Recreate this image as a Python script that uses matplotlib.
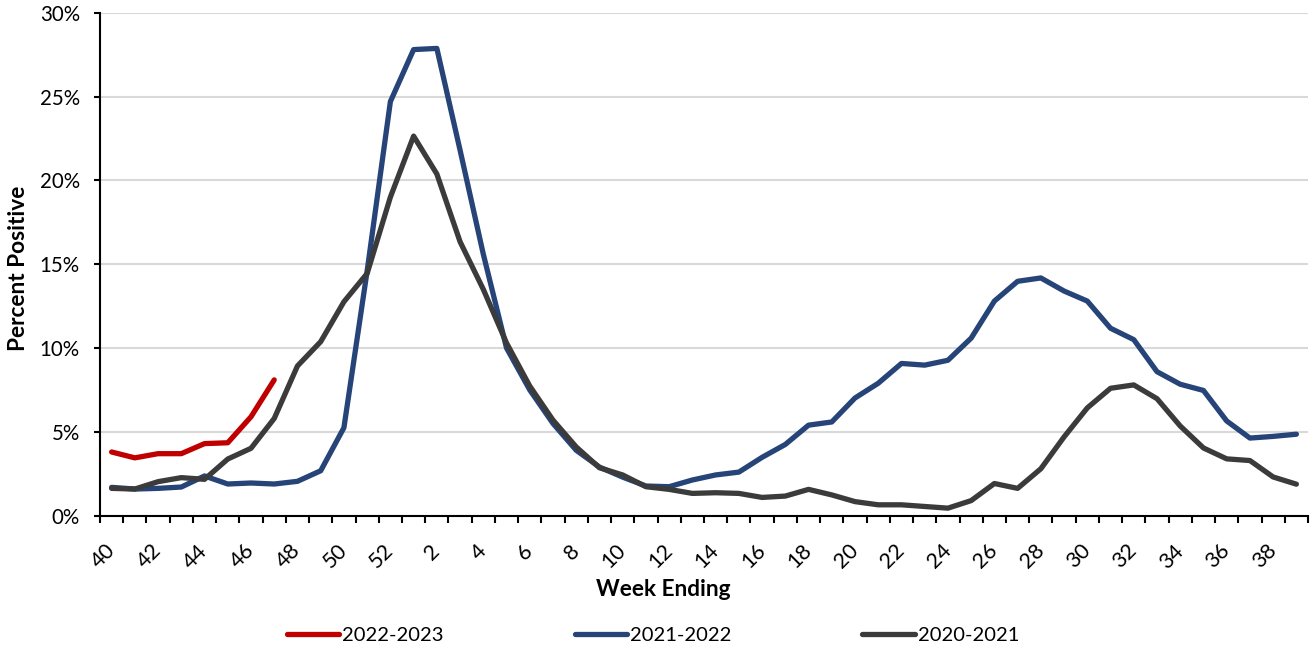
import matplotlib.pyplot as plt
import numpy as np

plt.rcParams['font.family'] = ['Lato', 'DejaVu Sans']

# week numbers on the category axis (flu season: week 40 to week 39)
weeks = list(range(40, 53)) + list(range(1, 40))

# percent positive per week
s2022_2023 = [3.8, 3.45, 3.7, 3.7, 4.3, 4.35, 5.9, 8.1]
s2021_2022 = [1.69, 1.59, 1.63, 1.71, 2.37, 1.89, 1.95, 1.89, 2.05, 2.68, 5.25, 14.6, 24.7, 27.8, 27.87,
              21.8, 15.6, 10.0, 7.5, 5.5, 3.9, 2.9, 2.3, 1.77, 1.73, 2.13, 2.43, 2.6, 3.48, 4.25, 5.4,
              5.59, 7.02, 7.9, 9.08, 8.98, 9.27, 10.59, 12.8, 13.98, 14.18, 13.4, 12.8, 11.18, 10.5,
              8.59, 7.84, 7.47, 5.65, 4.63, 4.73, 4.86]
s2020_2021 = [1.63, 1.59, 2.03, 2.27, 2.17, 3.38, 4.02, 5.8, 8.93, 10.38, 12.76, 14.45, 19.0, 22.64, 20.38,
              16.34, 13.5, 10.3, 7.73, 5.7, 4.1, 2.86, 2.43, 1.73, 1.57, 1.33, 1.37, 1.33, 1.09, 1.17, 1.57,
              1.24, 0.84, 0.65, 0.65, 0.55, 0.45, 0.9, 1.92, 1.63, 2.8, 4.7, 6.43, 7.6, 7.8,
              6.98, 5.35, 4.04, 3.39, 3.29, 2.31, 1.88]

W, H = 1313, 649
fig = plt.figure(figsize=(W / 100, H / 100), dpi=100)
ax = fig.add_axes([100 / W, 1 - 515.7 / H, 1208 / W, 503 / H])

x = np.arange(len(weeks))
lw = 3.8
ax.plot(x[:len(s2021_2022)], s2021_2022, color='#264478', lw=lw, label='2021-2022',
        solid_capstyle='round', solid_joinstyle='round', zorder=3)
ax.plot(x[:len(s2020_2021)], s2020_2021, color='#3b3b3b', lw=lw, label='2020-2021',
        solid_capstyle='round', solid_joinstyle='round', zorder=4)
ax.plot(x[:len(s2022_2023)], s2022_2023, color='#c00000', lw=lw, label='2022-2023',
        solid_capstyle='round', solid_joinstyle='round', zorder=5)

ax.set_xlim(-0.5, len(weeks) - 0.5)
ax.set_ylim(0, 30)
ax.set_yticks(range(0, 31, 5))
ax.set_yticklabels([f'{v}%' for v in range(0, 31, 5)], fontsize=14.8)
ax.yaxis.grid(True, color='#d9d9d9', lw=1.5)
ax.set_axisbelow(True)

ax.set_xticks(x[::2])
ax.set_xticklabels([str(w) for w in weeks[::2]], fontsize=15.5, rotation=45,
                   ha='right', va='center', rotation_mode='anchor')
ax.set_xticks(np.arange(-0.5, len(weeks)), minor=True)
ax.tick_params(axis='x', which='major', length=0, pad=23)
ax.tick_params(axis='x', which='minor', length=5, width=1.5, direction='out')
ax.tick_params(axis='y', length=4.5, width=1.5, pad=10)

for s in ['top', 'right']:
    ax.spines[s].set_visible(False)
for s in ['left', 'bottom']:
    ax.spines[s].set_linewidth(1.5)
    ax.spines[s].set_color('black')

fig.text(663 / W, 1 - 590 / H, 'Week Ending', fontsize=16.3, fontweight='bold',
         ha='center', va='center')
fig.text(19 / W, 1 - 268 / H, 'Percent Positive', fontsize=16.3, fontweight='bold',
         ha='center', va='center', rotation=90)

handles, labels = ax.get_legend_handles_labels()
order = [2, 0, 1]
fig.legend([handles[i] for i in order], [labels[i] for i in order], loc='center',
           bbox_to_anchor=(653 / W, 1 - 635 / H), ncol=3, frameon=False, fontsize=14.5,
           handlelength=2.6, handletextpad=0.15, columnspacing=6.5)

fig.savefig('out.png', dpi=100)
